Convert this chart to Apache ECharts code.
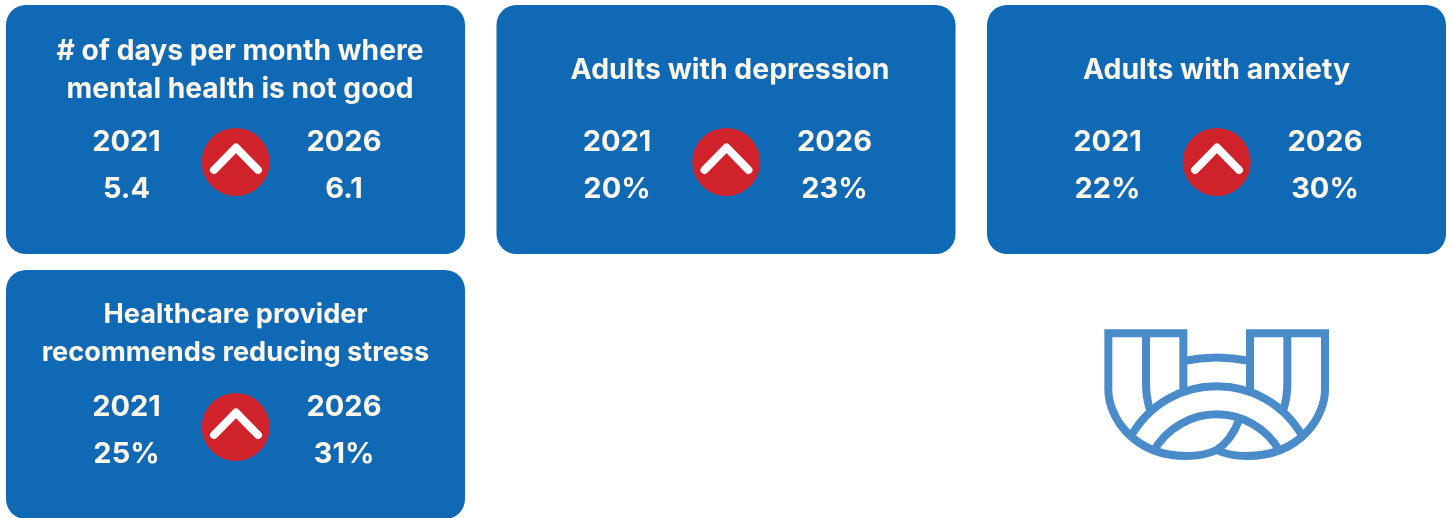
<!DOCTYPE html>
<html><head><meta charset="utf-8">
<script src="https://cdn.jsdelivr.net/npm/echarts@6/dist/echarts.min.js"></script>
<style>html,body{margin:0;padding:0;background:#fff}#c{width:1452px;height:518px}</style>
</head><body><div id="c"></div>
<script>
const titles = [
  ['# of days per month where', 'mental health is not good'],
  ['Adults with depression'],
  ['Adults with anxiety'],
  ['Healthcare provider', 'recommends reducing stress']
];
const startYears = ['2021', '2021', '2021', '2021'];
const endYears = ['2026', '2026', '2026', '2026'];
const startValues = ['5.4', '20%', '22%', '25%'];
const endValues = ['6.1', '23%', '30%', '31%'];
const cardLeft = [6, 496.5, 987, 6];
const cardTop = [5, 5, 5, 270];
const titleCenterX = [240, 730, 1216.5, 235.5];
const titleTopY = [52, 70.5, 70.5, 315];
const titleSize = [28.2, 28.4, 28.4, 27.2];

const FONT = 'Inter, "Open Sans", sans-serif';
const CREAM = '#fdf6ea';
const BLUE = '#0f69b4';
const RED = '#d0222a';
const W = 459, H = 249;

function txt(x, y, s, size, weight) {
  return { type: 'text', x: x, y: y, silent: true,
    style: { text: s, fill: CREAM, font: weight + ' ' + size + 'px ' + FONT, textAlign: 'center', textVerticalAlign: 'middle' } };
}
const els = [];
titles.forEach(function (t, i) {
  const l = cardLeft[i], y = cardTop[i];
  els.push({ type: 'rect', shape: { x: l, y: y, width: W, height: H, r: 20 }, style: { fill: BLUE } });
  t.forEach(function (line, k) {
    els.push(txt(titleCenterX[i], titleTopY[i] + k * 37.5, line, titleSize[i], 700));
  });
  els.push(txt(l + 120.5, y + 137.5, startYears[i], 29, 700));
  els.push(txt(l + 338, y + 137.5, endYears[i], 29, 700));
  els.push(txt(l + 120.5, y + 184.5, startValues[i], 29, 700));
  els.push(txt(l + 338, y + 184.5, endValues[i], 29, 700));
  els.push({ type: 'circle', shape: { cx: l + 229.7, cy: y + 157, r: 34 }, style: { fill: RED } });
  els.push({ type: 'polyline',
    shape: { points: [[l + 208, y + 165], [l + 230, y + 142.5], [l + 252, y + 165]] },
    style: { stroke: '#ffffff', lineWidth: 8, lineCap: 'round', lineJoin: 'round', fill: null } });
});
const logoCommands = [
  ['M',292,55],['L',55,55],['L',55,225],['C',55,300,125,423,290,423],['C',325,423,355,417,380,405],
  ['C',405,417,435,423,470,423],['C',635,423,705,300,705,225],['L',705,55],['L',468,55],
  ['M',280,43],['L',280,222],['M',480,43],['L',480,222],
  ['M',168,55],['L',168,205],['C',168,235,172,260,180,285],
  ['M',592,55],['L',592,205],['C',592,235,588,260,580,285],
  ['M',280,138],['C',345,124,415,124,480,138],
  ['M',120,368],['C',180,262,280,214,380,214],['C',480,214,580,262,640,368],
  ['M',190,410],['C',230,338,305,298,380,298],['C',455,298,530,338,570,410],
  ['M',445,320],['C',430,360,410,385,380,405]
];
const LogoShape = echarts.graphic.extendShape({
  shape: {},
  buildPath: function (ctx) {
    logoCommands.forEach(function (c) {
      if (c[0] === 'M') ctx.moveTo(c[1], c[2]);
      else if (c[0] === 'L') ctx.lineTo(c[1], c[2]);
      else ctx.bezierCurveTo(c[1], c[2], c[3], c[4], c[5], c[6]);
    });
  }
});
echarts.graphic.registerShape('logoShape', LogoShape);
els.push({ type: 'logoShape', x: 1090, y: 315, scaleX: 1 / 3, scaleY: 1 / 3,
  shape: {},
  style: { stroke: '#4a8bca', lineWidth: 24, fill: null, lineJoin: 'miter', lineCap: 'butt' } });

const chart = echarts.init(document.getElementById('c'), null, { renderer: 'canvas' });
chart.setOption({ animation: false, backgroundColor: '#ffffff', graphic: { elements: els } });
</script></body></html>
